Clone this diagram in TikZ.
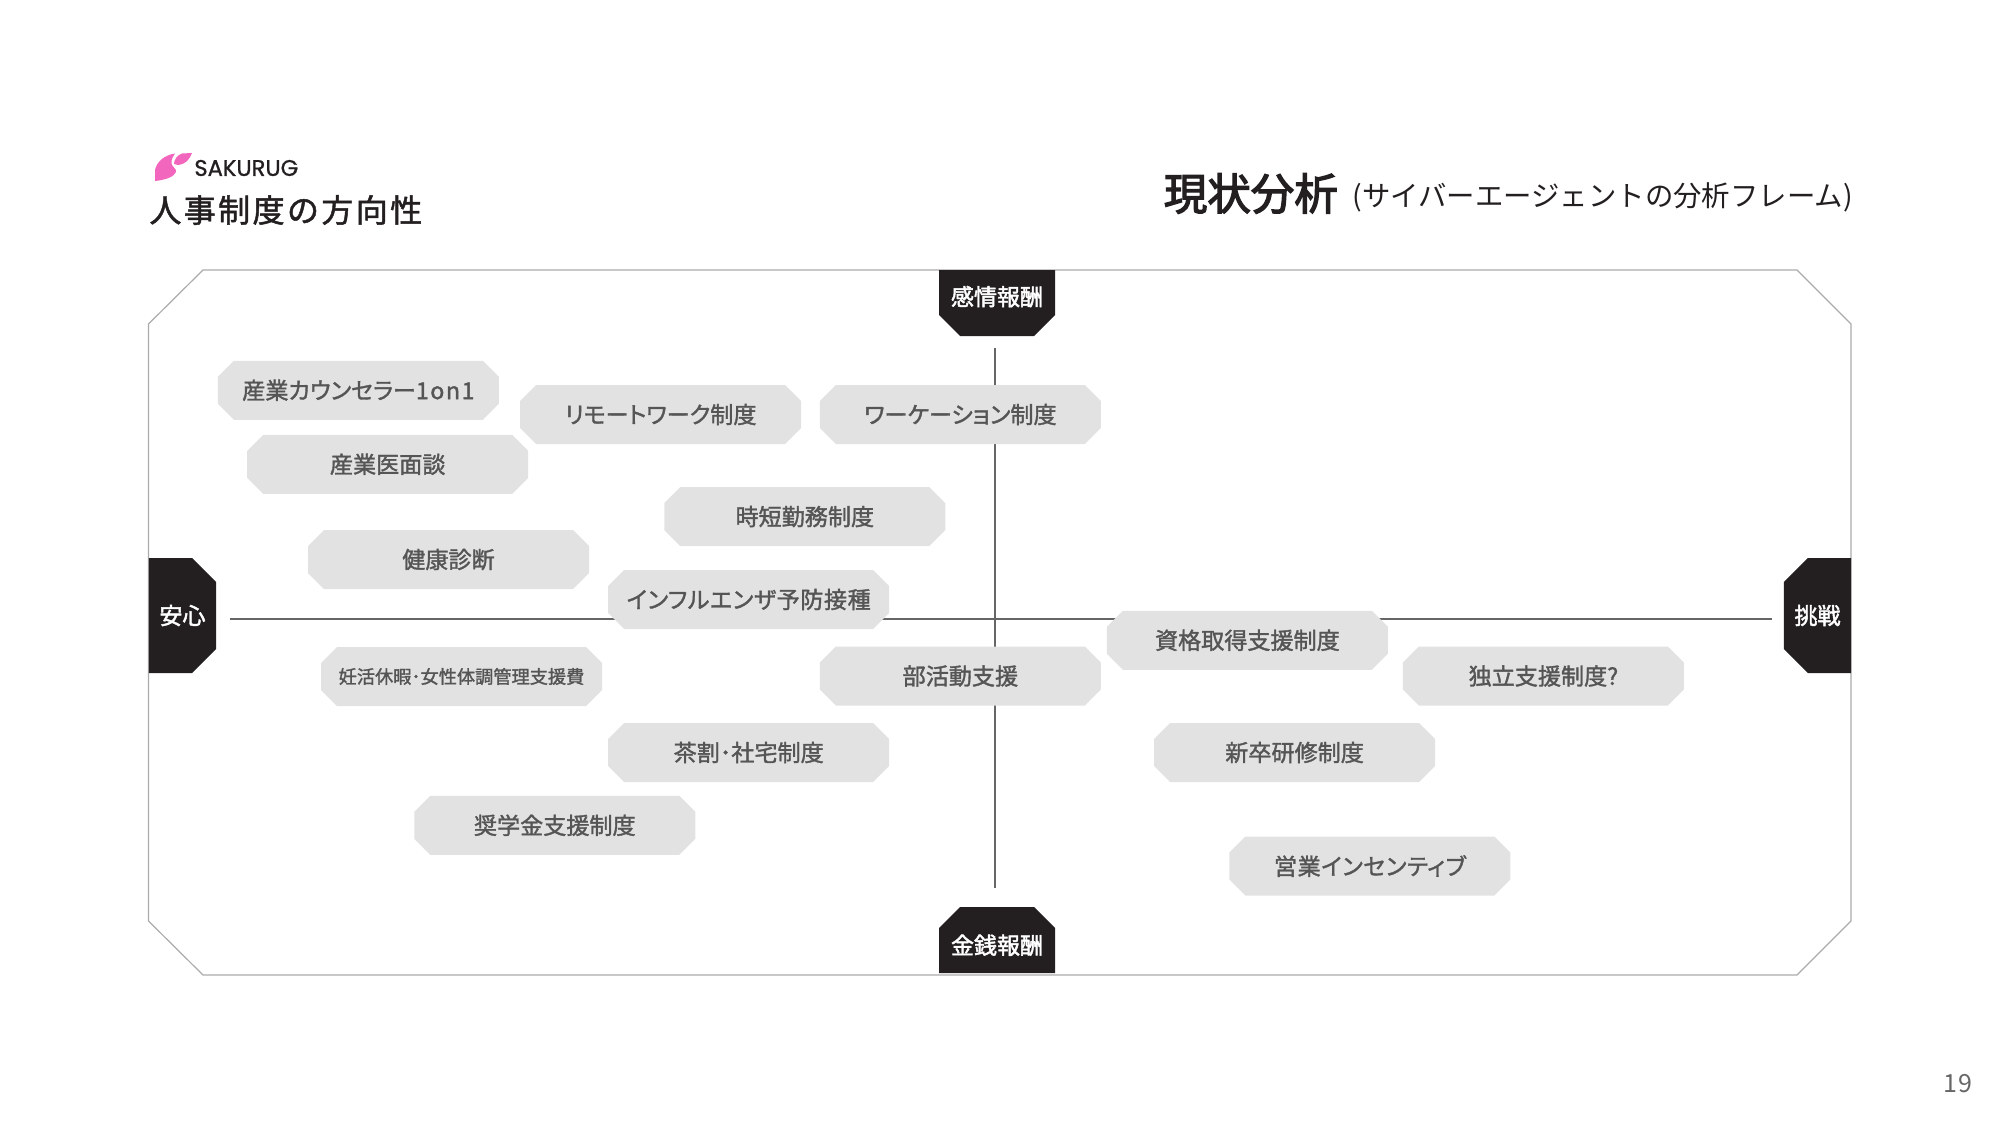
\documentclass[tikz,border=0pt]{standalone}
\usepackage{fontspec}
\setmainfont{Noto Sans CJK JP}
\newfontfamily\logofont{Poppins}
\usetikzlibrary{calc,positioning,shapes.misc}

\definecolor{chipgray}{HTML}{E2E2E2}
\definecolor{chiptext}{HTML}{555555}
\definecolor{tagblack}{HTML}{231F20}
\definecolor{axisgray}{HTML}{666666}
\definecolor{framegray}{HTML}{ABABAB}
\definecolor{logopink}{HTML}{F266BD}

\begin{document}
\begin{tikzpicture}[
    x=0.5pt, y=-0.5pt,
    chip/.style={chamfered rectangle, chamfered rectangle xsep=4pt, chamfered rectangle ysep=4pt, fill=chipgray, text=chiptext, inner sep=0pt, outer sep=0pt, minimum width=140.5pt, minimum height=29.5pt, font=\fontsize{11.55}{13}\selectfont\addfontfeature{RawFeature=+palt,FakeBold=1.5}},
    chipwide/.style={chip, font=\fontsize{11.55}{13}\selectfont\addfontfeature{RawFeature=+palt,FakeBold=1.5,LetterSpace=2.5}},
    tag/.style={chamfered rectangle, chamfered rectangle xsep=6.7pt, chamfered rectangle ysep=6.7pt, fill=tagblack, text=white, inner sep=0pt, outer sep=0pt, font=\fontsize{11.5}{13}\selectfont\addfontfeature{FakeBold=2}},
    tagh/.style={tag, chamfered rectangle xsep=10.5pt, chamfered rectangle ysep=10.5pt, minimum width=58pt, minimum height=33pt},
    tagv/.style={tag, minimum width=33.5pt, minimum height=57.5pt},
    axisline/.style={draw=axisgray, line width=1pt}
]
\useasboundingbox (0,0) rectangle (2000,1123);

% frame
\draw[framegray, line width=0.6pt] (203,270) -- (1797,270) -- (1851,324) -- (1851,921) -- (1797,975) -- (203,975) -- (148.5,921) -- (148.5,324) -- cycle;

% header
\fill[logopink] (155,181) -- (155,170) .. controls (157,161) and (165,155) .. (175,153.5) .. controls (171,159) and (171,163) .. (172,165) .. controls (173,168) and (177,169) .. (176,172) .. controls (174,177) and (165,180) .. (155,181) -- cycle;
\fill[logopink] (192,153) -- (182,153.5) .. controls (177,155) and (174,160) .. (174,164) -- (178,165) .. controls (186,164) and (189,160) .. (192,153) -- cycle;
\node[anchor=west, inner sep=0pt, text=tagblack, font=\logofont\fontsize{11.3}{14}\selectfont\addfontfeature{FakeBold=1}] (logo) at (194,168) {SAKURUG};
\node[anchor=west, inner sep=0pt, text=tagblack, font=\fontsize{16}{19}\selectfont\addfontfeature{LetterSpace=7.5,FakeBold=1.5}] (subject) at (149,210) {人事制度の方向性};
\node[anchor=east, inner sep=0pt, text=tagblack, font=\fontsize{14.2}{16}\selectfont] (subtitle) at (1853,197.5) {(サイバーエージェントの分析フレーム)};
\node[left=7pt of subtitle, yshift=2pt, inner sep=0pt, text=tagblack, font=\fontsize{21.75}{25}\selectfont\addfontfeature{FakeBold=3}] (title) {現状分析};
\node[inner sep=0pt, text=axisgray, font=\fontsize{12.5}{15}\selectfont\addfontfeature{LetterSpace=5}] (page) at (1958,1084) {19};

% axis tags
\node[tagv, chamfered rectangle corners={north east, south east}] (anshin) at (182.5,615.5) {安心};
\node[tagv, chamfered rectangle corners={north west, south west}] (chosen) at (1817.5,615.5) {挑戦};
\node[tagh, chamfered rectangle corners={south east, south west}] (kanjo) at (997,303) {\raisebox{-1.2pt}[0pt][0pt]{感情報酬}};
\node[tagh, chamfered rectangle corners={north east, north west}] (kinsen) at (997,940) {\raisebox{-6.95pt}[0pt][0pt]{金銭報酬}};

\draw[axisline] ($(anshin.east)+(14,3.5)$) -- ($(chosen.west)+(-12,3.5)$);
\draw[axisline] ($(kanjo.south)+(-2,12)$) -- ($(kinsen.north)+(-2,-19)$);

% measures
\node[chip] (counsel) at (358.4,390.3) {産業カウンセラー\addfontfeature{LetterSpace=7}1on1};
\node[chip] (remote) at (660.7,414.5) {リモートワーク制度};
\node[chip] (workation) at (960.4,414.5) {ワーケーション制度};
\node[chip] (doctor) at (387.7,464.3) {産業医面談};
\node[chip] (shorttime) at (804.8,516.6) {時短勤務制度};
\node[chip] (checkup) at (448.5,559.5) {健康診断};
\node[chipwide] (flu) at (748.7,599.5) {インフルエンザ予防接種};
\node[chip] (license) at (1247.4,640.3) {資格取得支援制度};
\node[chip, font=\fontsize{9.1}{12}\selectfont\addfontfeature{RawFeature=+palt,FakeBold=1.5}] (fertility) at (461.5,676.5) {妊活休暇･女性体調管理支援費};
\node[chip] (club) at (960.4,676) {部活動支援};
\node[chip] (independ) at (1543.4,676) {独立支援制度?};
\node[chip] (housing) at (748.7,752.5) {茶割･社宅制度};
\node[chip] (newgrad) at (1294.6,752.5) {新卒研修制度};
\node[chip] (scholar) at (554.8,825.3) {奨学金支援制度};
\node[chipwide] (incentive) at (1369.9,866) {営業インセンティブ};
\end{tikzpicture}
\end{document}
